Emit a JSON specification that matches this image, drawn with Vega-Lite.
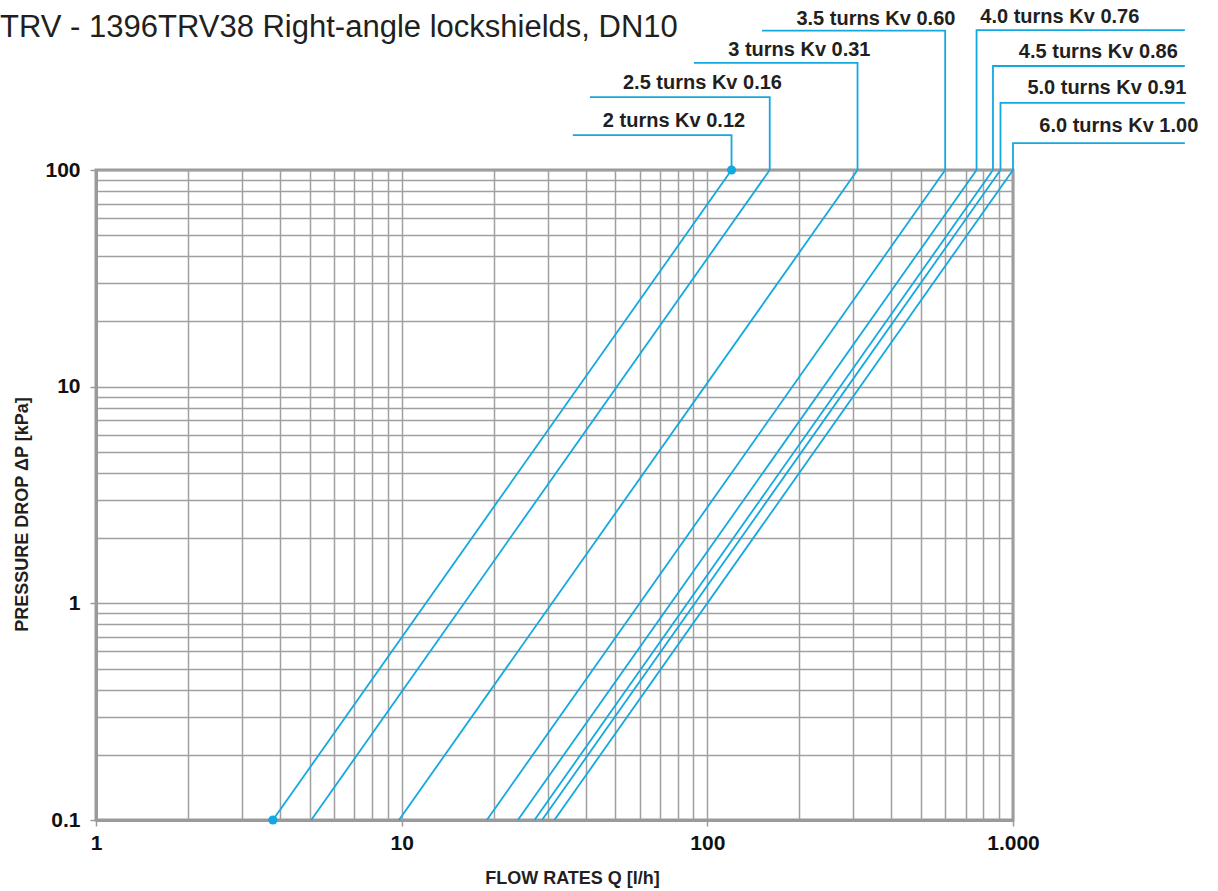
{
  "$schema": "https://vega.github.io/schema/vega-lite/v6.json",
  "width": 917,
  "height": 650,
  "autosize": {"type": "none"},
  "padding": {"left": 96, "top": 170, "right": 205, "bottom": 71},
  "background": "white",
  "config": {
    "view": {"stroke": "#9a9a9a", "strokeWidth": 3},
    "font": "Liberation Sans"
  },
  "title": {
    "text": "TRV - 1396TRV38 Right-angle lockshields, DN10",
    "anchor": "start",
    "frame": "group",
    "orient": "top",
    "offset": 0,
    "dx": -96,
    "dy": 61,
    "baseline": "alphabetic",
    "font": "Liberation Sans",
    "fontSize": 31,
    "fontWeight": "normal",
    "color": "#231f20"
  },
  "datasets": {
    "curves": [
      {"series": "2 turns", "Q": 3.79, "dp": 0.1}, {"series": "2 turns", "Q": 120, "dp": 100},
      {"series": "2.5 turns", "Q": 5.06, "dp": 0.1}, {"series": "2.5 turns", "Q": 160, "dp": 100},
      {"series": "3 turns", "Q": 9.8, "dp": 0.1}, {"series": "3 turns", "Q": 310, "dp": 100},
      {"series": "3.5 turns", "Q": 19, "dp": 0.1}, {"series": "3.5 turns", "Q": 600, "dp": 100},
      {"series": "4.0 turns", "Q": 24, "dp": 0.1}, {"series": "4.0 turns", "Q": 760, "dp": 100},
      {"series": "4.5 turns", "Q": 27.2, "dp": 0.1}, {"series": "4.5 turns", "Q": 860, "dp": 100},
      {"series": "5.0 turns", "Q": 28.8, "dp": 0.1}, {"series": "5.0 turns", "Q": 910, "dp": 100},
      {"series": "6.0 turns", "Q": 31.6, "dp": 0.1}, {"series": "6.0 turns", "Q": 1000, "dp": 100}
    ],
    "dots": [
      {"Q": 3.79, "dp": 0.1}, {"Q": 120, "dp": 100}
    ],
    "leaders": [
      {"lead": "2 turns", "Q": 36.3, "dp": 145, "k": 1}, {"lead": "2 turns", "Q": 120, "dp": 145, "k": 2}, {"lead": "2 turns", "Q": 120, "dp": 100, "k": 3},
      {"lead": "2.5 turns", "Q": 41.3, "dp": 217, "k": 1}, {"lead": "2.5 turns", "Q": 160, "dp": 217, "k": 2}, {"lead": "2.5 turns", "Q": 160, "dp": 100, "k": 3},
      {"lead": "3 turns", "Q": 90.4, "dp": 312, "k": 1}, {"lead": "3 turns", "Q": 310, "dp": 312, "k": 2}, {"lead": "3 turns", "Q": 310, "dp": 100, "k": 3},
      {"lead": "3.5 turns", "Q": 151, "dp": 440, "k": 1}, {"lead": "3.5 turns", "Q": 600, "dp": 440, "k": 2}, {"lead": "3.5 turns", "Q": 600, "dp": 100, "k": 3},
      {"lead": "4.0 turns", "Q": 3650, "dp": 442, "k": 1}, {"lead": "4.0 turns", "Q": 760, "dp": 442, "k": 2}, {"lead": "4.0 turns", "Q": 760, "dp": 100, "k": 3},
      {"lead": "4.5 turns", "Q": 3650, "dp": 302, "k": 1}, {"lead": "4.5 turns", "Q": 860, "dp": 302, "k": 2}, {"lead": "4.5 turns", "Q": 860, "dp": 100, "k": 3},
      {"lead": "5.0 turns", "Q": 3650, "dp": 204, "k": 1}, {"lead": "5.0 turns", "Q": 910, "dp": 204, "k": 2}, {"lead": "5.0 turns", "Q": 910, "dp": 100, "k": 3},
      {"lead": "6.0 turns", "Q": 3650, "dp": 133, "k": 1}, {"lead": "6.0 turns", "Q": 1000, "dp": 133, "k": 2}, {"lead": "6.0 turns", "Q": 1000, "dp": 100, "k": 3}
    ],
    "labels": [
      {"label": "2 turns Kv 0.12", "Q": 77.8, "dp": 169},
      {"label": "2.5 turns Kv 0.16", "Q": 96.4, "dp": 252},
      {"label": "3 turns Kv 0.31", "Q": 200, "dp": 358},
      {"label": "3.5 turns Kv 0.60", "Q": 356, "dp": 500},
      {"label": "4.0 turns Kv 0.76", "Q": 1423, "dp": 510},
      {"label": "4.5 turns Kv 0.86", "Q": 1902, "dp": 352},
      {"label": "5.0 turns Kv 0.91", "Q": 2028, "dp": 240},
      {"label": "6.0 turns Kv 1.00", "Q": 2219, "dp": 159}
    ]
  },
  "layer": [
    {
      "data": {"name": "curves"},
      "mark": {"type": "line", "color": "#14a8e0", "strokeWidth": 1.8},
      "encoding": {
        "x": {
          "field": "Q", "type": "quantitative",
          "scale": {"type": "log", "domain": [1, 1000], "nice": false},
          "axis": {
            "values": [1,2,3,4,5,6,7,8,9,10,20,30,40,50,60,70,80,90,100,200,300,400,500,600,700,800,900,1000],
            "labelExpr": "datum.value == 1 ? '1' : datum.value == 10 ? '10' : datum.value == 100 ? '100' : datum.value == 1000 ? '1.000' : ''",
            "labelOverlap": false, "labelFlush": false, "labelBound": false,
            "grid": true, "gridColor": "#a0a0a0", "gridWidth": 1.5,
            "domainColor": "#9a9a9a", "domainWidth": 3,
            "tickColor": {"condition": {"test": "datum.value == 1 || datum.value == 10 || datum.value == 100 || datum.value == 1000", "value": "#9a9a9a"}, "value": "transparent"},
            "tickSize": 6, "tickWidth": 1.5,
            "labelFont": "Liberation Sans", "labelFontSize": 21, "labelFontWeight": "bold", "labelColor": "#111111", "labelPadding": 6,
            "title": "FLOW RATES Q [l/h]",
            "titleFont": "Liberation Sans", "titleFontSize": 18, "titleFontWeight": "bold", "titleColor": "#231f20",
            "titleX": 476, "titleY": 63, "titleBaseline": "alphabetic", "titleAlign": "center"
          }
        },
        "y": {
          "field": "dp", "type": "quantitative",
          "scale": {"type": "log", "domain": [0.1, 100], "nice": false},
          "axis": {
            "values": [0.1,0.2,0.3,0.4,0.5,0.6,0.7,0.8,0.9,1,2,3,4,5,6,7,8,9,10,20,30,40,50,60,70,80,90,100],
            "labelExpr": "datum.value == 0.1 ? '0.1' : datum.value == 1 ? '1' : datum.value == 10 ? '10' : datum.value == 100 ? '100' : ''",
            "labelOverlap": false, "labelFlush": false, "labelBound": false,
            "grid": true, "gridColor": "#a0a0a0", "gridWidth": 1.5,
            "domainColor": "#9a9a9a", "domainWidth": 3,
            "tickColor": {"condition": {"test": "datum.value == 0.1 || datum.value == 1 || datum.value == 10 || datum.value == 100", "value": "#9a9a9a"}, "value": "transparent"},
            "tickSize": 6, "tickWidth": 1.5,
            "labelFont": "Liberation Sans", "labelFontSize": 21, "labelFontWeight": "bold", "labelColor": "#111111", "labelPadding": 10,
            "title": "PRESSURE DROP ΔP [kPa]",
            "titleFont": "Liberation Sans", "titleFontSize": 18, "titleFontWeight": "bold", "titleColor": "#231f20",
            "titleX": -69, "titleY": 344, "titleBaseline": "alphabetic", "titleAlign": "center", "titleAngle": -90
          }
        },
        "detail": {"field": "series"}
      }
    },
    {
      "data": {"name": "leaders"},
      "mark": {"type": "line", "color": "#14a8e0", "strokeWidth": 1.8, "clip": false},
      "encoding": {
        "x": {"field": "Q", "type": "quantitative"},
        "y": {"field": "dp", "type": "quantitative"},
        "detail": {"field": "lead"},
        "order": {"field": "k"}
      }
    },
    {
      "data": {"name": "dots"},
      "mark": {"type": "point", "filled": true, "color": "#14a8e0", "size": 85, "opacity": 1},
      "encoding": {
        "x": {"field": "Q", "type": "quantitative"},
        "y": {"field": "dp", "type": "quantitative"}
      }
    },
    {
      "data": {"name": "labels"},
      "mark": {"type": "text", "font": "Liberation Sans", "fontSize": 20, "fontWeight": "bold", "color": "#231f20", "align": "center", "baseline": "middle", "clip": false},
      "encoding": {
        "x": {"field": "Q", "type": "quantitative"},
        "y": {"field": "dp", "type": "quantitative"},
        "text": {"field": "label"}
      }
    }
  ]
}
